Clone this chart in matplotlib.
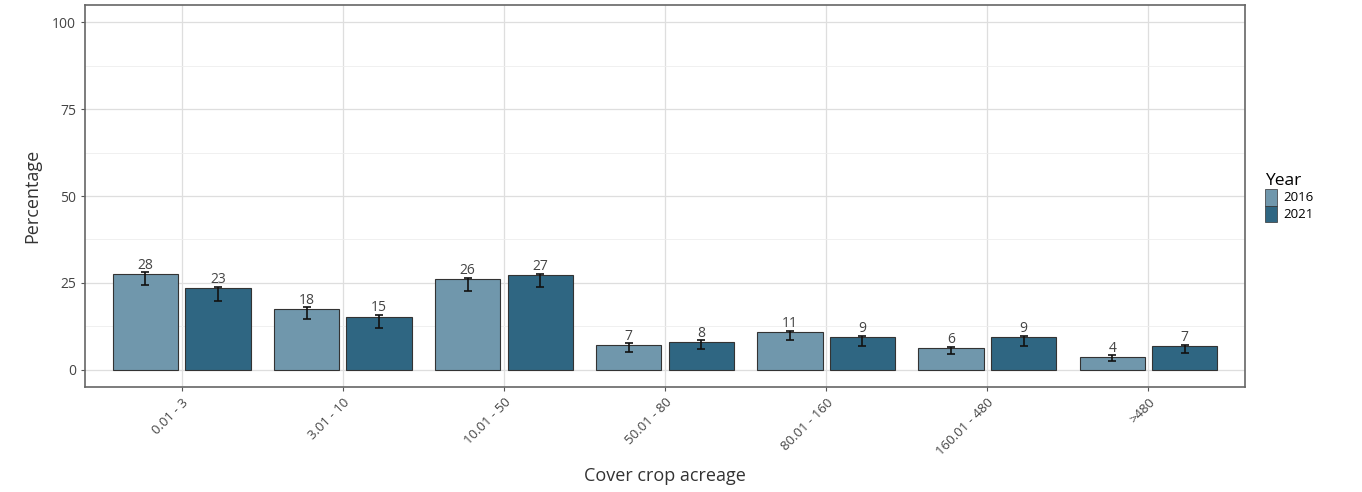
import matplotlib.pyplot as plt
import numpy as np
from matplotlib.patches import Patch

plt.rcParams['font.family'] = ['Open Sans', 'DejaVu Sans']

categories = ["0.01 - 3", "3.01 - 10", "10.01 - 50", "50.01 - 80",
              "80.01 - 160", "160.01 - 480", ">480"]
years = ["2016", "2021"]
pct_2016 = [27.6, 17.5, 26.0, 7.2, 10.8, 6.2, 3.7]
pct_2021 = [23.4, 15.3, 27.2, 8.0, 9.3, 9.3, 6.8]
err_2016 = [3.2, 2.9, 3.3, 2.0, 2.2, 1.8, 1.2]
err_2021 = [3.6, 3.2, 3.4, 2.0, 2.6, 2.4, 2.0]
labels_2016 = ["28", "18", "26", "7", "11", "6", "4"]
labels_2021 = ["23", "15", "27", "8", "9", "9", "7"]

colors = {"2016": "#7097ac", "2021": "#2f6682"}

fig = plt.figure(figsize=(13.62, 4.92), dpi=100)
ax = fig.add_axes([0.0624, 0.2134, 0.8518, 0.7764])

x = np.arange(len(categories))
off = 0.225
w = 0.405

for vals, errs, labs, yr, sgn in [(pct_2016, err_2016, labels_2016, "2016", -1),
                                   (pct_2021, err_2021, labels_2021, "2021", 1)]:
    xs = x + sgn * off
    ax.bar(xs, vals, width=w, color=colors[yr], edgecolor="#333333",
           linewidth=0.8, zorder=3)
    ax.errorbar(xs, vals, yerr=[errs, [0.4] * len(vals)], fmt="none",
                ecolor="#111111", elinewidth=1.2, capsize=3, capthick=1.2,
                zorder=4)
    for xi, v, lab in zip(xs, vals, labs):
        ax.text(xi, v + 0.3, lab, ha="center", va="bottom", fontsize=10,
                color="#444444", zorder=5)

ax.set_xlim(-0.6, len(categories) - 0.4)
ax.set_ylim(-5, 105)
ax.set_yticks([0, 25, 50, 75, 100])
ax.set_yticks([12.5, 37.5, 62.5, 87.5], minor=True)
ax.set_xticks(x)
ax.set_xticklabels(categories, rotation=45, ha="right", rotation_mode="anchor",
                   fontsize=9.5, color="#444444")
ax.tick_params(axis="y", labelsize=10, labelcolor="#444444", length=3,
               color="#555555")
ax.tick_params(axis="y", which="minor", length=0)
ax.tick_params(axis="x", length=3, color="#555555")

ax.grid(True, which="major", color="#dedede", linewidth=0.9, zorder=0)
ax.grid(True, which="minor", axis="y", color="#eeeeee", linewidth=0.6, zorder=0)
ax.set_axisbelow(True)
for s in ax.spines.values():
    s.set_color("#666666")
    s.set_linewidth(1.2)

ax.set_xlabel("Cover crop acreage", fontsize=13, color="#333333", labelpad=6)
ax.set_ylabel("Percentage", fontsize=13, color="#333333", labelpad=8)

handles = [Patch(facecolor=colors[yr], edgecolor="#333333", linewidth=0.5)
           for yr in years]
leg = fig.legend(handles, years, title="Year", loc="upper left",
                 bbox_to_anchor=(0.925, 0.66), frameon=False, fontsize=9.5,
                 title_fontsize=12.5, handlelength=0.9, handleheight=1.6,
                 labelspacing=0.0, handletextpad=0.5, borderaxespad=0)
leg._legend_box.align = "left"

fig.savefig("out.png", dpi=100)
